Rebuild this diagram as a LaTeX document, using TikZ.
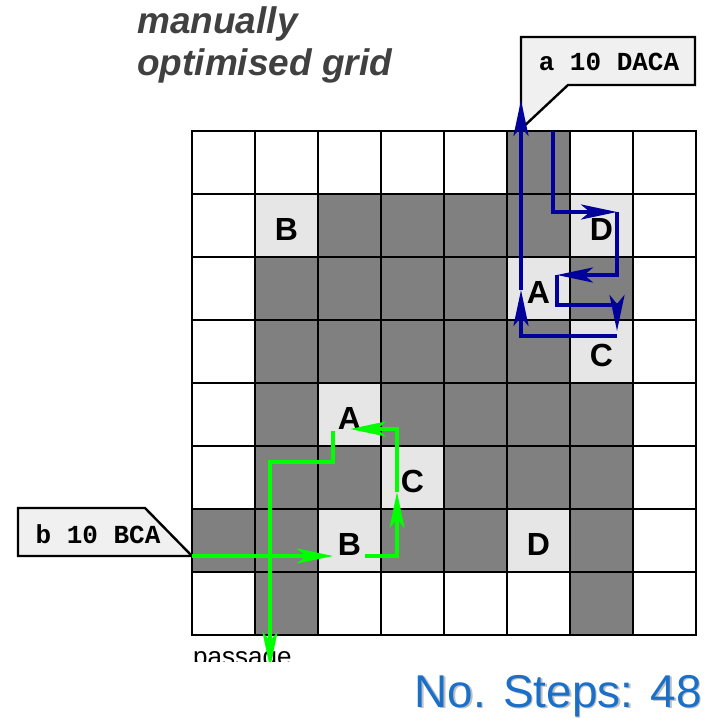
\documentclass[tikz,border=0pt]{standalone}
\usepackage{fontspec}
\setmainfont{Liberation Sans}
\setmonofont{Liberation Mono}
\usetikzlibrary{arrows.meta}
\definecolor{Wall}{HTML}{808080}
\definecolor{Goal}{HTML}{E6E6E6}
\definecolor{Tag}{HTML}{F0F0F0}
\definecolor{Heading}{HTML}{404040}
\definecolor{RouteA}{HTML}{00009A}
\definecolor{RouteB}{HTML}{00FF00}
\definecolor{Steps}{HTML}{1A70C8}

\tikzset{
  letter/.style={font=\fontsize{32}{32}\selectfont\bfseries,inner sep=0pt},
  gridline/.style={line width=2.4pt,line cap=rect},
  route/.style={line width=4.2pt,-{Stealth[length=36pt,width=15pt,inset=9pt]}},
  tag/.style={fill=Tag,draw=black,line width=2.4pt},
  tagtext/.style={font=\fontsize{26}{26}\selectfont\ttfamily\bfseries,inner sep=0pt},
  heading/.style={font=\fontsize{37}{37}\selectfont\bfseries\itshape,text=Heading,inner sep=0pt,anchor=base west},
  steps/.style={font=\fontsize{46}{46}\selectfont,inner sep=0pt,anchor=base east}
}

\begin{document}
\begin{tikzpicture}[x=1pt,y=-1pt]
  \fill[white] (0,0) rectangle (715,719);
  \useasboundingbox (0,0) rectangle (715,719);

  \node[heading] (head1) at (137,34) {manually};
  \node[heading] (head2) at (137,76) {optimised grid};

  \begin{scope}
    \clip (0,0) rectangle (715,661);
    \foreach \c/\r in {5/0,2/1,3/1,4/1,5/1,1/2,2/2,3/2,4/2,6/2,1/3,2/3,3/3,4/3,5/3,1/4,3/4,4/4,5/4,6/4,1/5,2/5,4/5,5/5,6/5,0/6,1/6,3/6,4/6,6/6,1/7,6/7}
      \fill[Wall] (192+63*\c,131+63*\r) rectangle ++(63,63);
    \foreach \c/\r/\l/\n in {1/1/B/gB1,6/1/D/gD1,5/2/A/gA1,6/3/C/gC1,2/4/A/gA2,3/5/C/gC2,2/6/B/gB2,5/6/D/gD2} {
      \fill[Goal] (192+63*\c,131+63*\r) rectangle ++(63,63);
      \node[letter] (\n) at (223.5+63*\c,166.5+63*\r) {\l};
    }
    \foreach \i in {0,...,8} {
      \draw[gridline] (192+63*\i,131) -- (192+63*\i,635);
      \draw[gridline] (192,131+63*\i) -- (696,131+63*\i);
    }

    \filldraw[tag] (521,37) -- (695,37) -- (695,85) -- (568,85) -- (521,129) -- cycle;
    \node[tagtext] (tagA) at (609,62) {a 10 DACA};
    \filldraw[tag] (18,508) -- (145,508) -- (192,556) -- (18,556) -- cycle;
    \node[tagtext] (tagB) at (98,534) {b 10 BCA};

    \node[font=\fontsize{26}{26}\selectfont,inner sep=0pt,anchor=base west] (exit) at (193,665) {passage};

    \coordinate (a0) at (553,131);
    \coordinate (a1) at (617,212);
    \coordinate (a2) at (557,275);
    \coordinate (a3) at (557,305);
    \coordinate (a4) at (617,331);
    \coordinate (a5) at (617,336);
    \coordinate (a6) at (521,290);
    \coordinate (a7) at (521,100);
    \draw[route,RouteA] (a0) |- (a1);
    \draw[route,RouteA] (a1) |- (a2);
    \draw[route,RouteA] (a2) -- (a3) -| (a4);
    \draw[route,RouteA] (a5) -| (a6);
    \draw[route,RouteA] (a6) -- (a7);

    \coordinate (b0) at (192,556);
    \coordinate (b1) at (333,556);
    \coordinate (b2) at (365,556);
    \coordinate (b3) at (397,492);
    \coordinate (b4) at (350,429);
    \coordinate (b5) at (333,431);
    \coordinate (b6) at (270,462);
    \coordinate (b7) at (270,668);
    \draw[route,RouteB] (b0) -- (b1);
    \draw[route,RouteB] (b2) -| (b3);
    \draw[route,RouteB] (b3) |- (b4);
    \draw[route,RouteB] (b5) |- (b6) -- (b7);
  \end{scope}

  \node[steps,text=black!25] (shadow) at (703.5,708.5) {No. Steps: 48};
  \node[steps,text=Steps] (steps) at (702,707) {No. Steps: 48};
\end{tikzpicture}
\end{document}
